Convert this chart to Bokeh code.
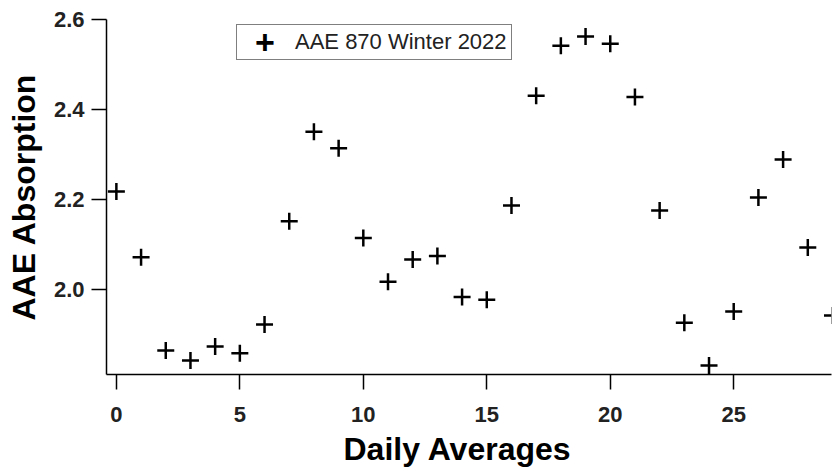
from bokeh.plotting import figure
from bokeh.models import (Range1d, FixedTicker, NumeralTickFormatter, Legend,
                          LegendItem, Title)
from bokeh.embed import file_html
from bokeh.resources import INLINE

# Daily averaged absorption Angstrom exponent (870 nm), winter 2022
day = list(range(30))
aae_870 = [2.218, 2.072, 1.865, 1.843, 1.874, 1.859, 1.923, 2.152, 2.351, 2.314,
           2.115, 2.018, 2.067, 2.075, 1.984, 1.978, 2.187, 2.431, 2.542, 2.562,
           2.546, 2.428, 2.176, 1.927, 1.832, 1.952, 2.205, 2.289, 2.094, 1.943]

x_ticks = [0, 5, 10, 15, 20, 25]
y_ticks = [2.0, 2.2, 2.4, 2.6]
series_label = "AAE 870 Winter 2022"
x_title = "Daily Averages"
y_title = "AAE Absorption"

FONT = "Liberation Sans"

p = figure(width=838, height=471, output_backend="svg", toolbar_location=None,
           x_range=Range1d(-0.4, 28.96), y_range=Range1d(1.812, 2.6),
           min_border_left=106, min_border_right=7, min_border_top=19, min_border_bottom=97)
p.outline_line_color = None
p.xgrid.visible = False
p.ygrid.visible = False
p.background_fill_color = "white"
p.border_fill_color = "white"

pts = p.scatter(day, aae_870, marker="cross", size=17, line_width=2.5, color="black")

for ax in (p.xaxis[0], p.yaxis[0]):
    ax.axis_line_width = 1.5
    ax.axis_line_color = "black"
    ax.major_tick_line_width = 1.5
    ax.major_tick_line_color = "black"
    ax.major_tick_in = 0
    ax.major_tick_out = 15
    ax.minor_tick_line_color = None
    ax.major_label_text_font = FONT
    ax.major_label_text_font_style = "bold"
    ax.major_label_text_font_size = "22px"
    ax.major_label_text_color = "#222222"
    ax.axis_label_text_font = FONT
    ax.axis_label_text_font_style = "bold"
    ax.axis_label_text_font_size = "32px"
    ax.axis_label_text_color = "black"

p.xaxis.ticker = FixedTicker(ticks=x_ticks)
p.yaxis.ticker = FixedTicker(ticks=y_ticks)
p.yaxis.formatter = NumeralTickFormatter(format="0.0")
p.yaxis.axis_label = y_title
p.xaxis.major_label_standoff = 17
p.yaxis.major_label_standoff = 7
p.yaxis.axis_label_standoff = 9

# x-axis title as a panel title below the axis, set a little left of centre
p.add_layout(Title(text=x_title, align="left", offset=237, standoff=8,
                   text_font=FONT, text_font_style="bold", text_font_size="32px",
                   text_color="black"), "below")

# legend box with its text; the glyph slot stays empty
swatch = p.scatter([], [], marker="cross", size=17, line_alpha=0, fill_alpha=0)
legend = Legend(items=[LegendItem(label=series_label, renderers=[swatch])],
                location=(130, 314), padding=4, margin=0, spacing=0,
                glyph_width=46, glyph_height=22, label_standoff=8,
                label_text_font=FONT, label_text_font_size="22px",
                label_text_color="#222222",
                border_line_color="black", border_line_width=1.5,
                background_fill_color="white", background_fill_alpha=1.0)
p.add_layout(legend, "center")

# full-size cross marker for the legend, laid over the empty glyph slot
mark = Legend(items=[LegendItem(label="+", renderers=[swatch])],
              location=(149, 312), padding=0, margin=0, spacing=0,
              glyph_width=0, glyph_height=10, label_standoff=0,
              label_text_font=FONT, label_text_font_style="bold",
              label_text_font_size="34px", label_text_color="black",
              border_line_color=None, background_fill_alpha=0.0)
p.add_layout(mark, "center")

open("out.html", "w").write(file_html(p, INLINE))
